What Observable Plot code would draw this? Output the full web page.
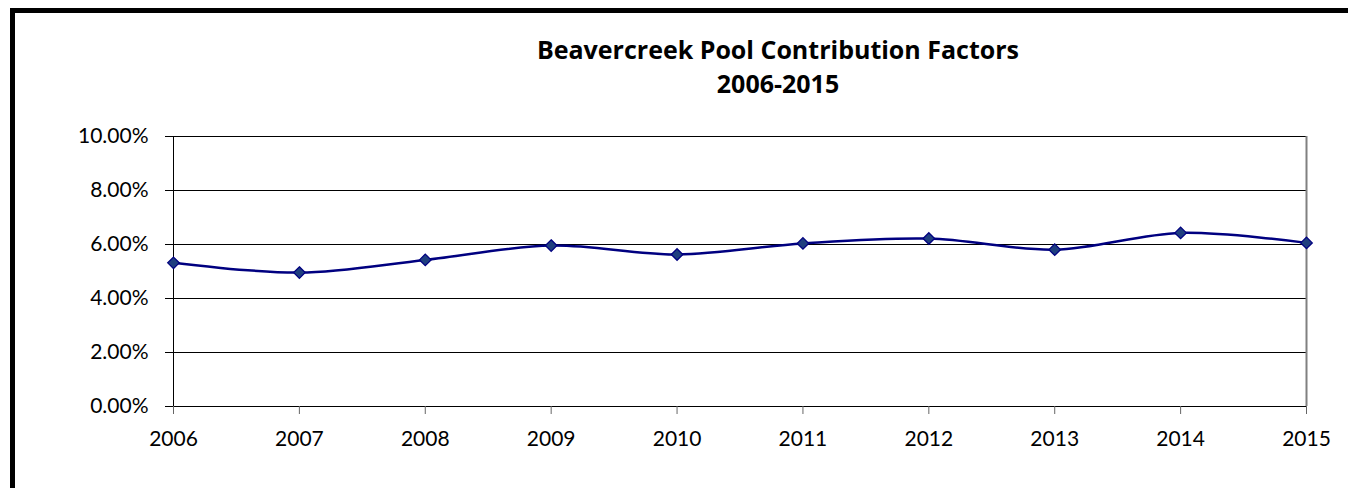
<!DOCTYPE html>
<html>
<head>
<meta charset="utf-8">
<script src="https://cdn.jsdelivr.net/npm/d3@7"></script>
<script src="https://cdn.jsdelivr.net/npm/@observablehq/plot@0.6"></script>
<style>
  html, body { margin: 0; padding: 0; background: #fff; overflow: hidden; width: 1348px; height: 488px; }
  #wrap { position: relative; width: 1348px; height: 488px; overflow: hidden; font-family: Lato, "Open Sans", sans-serif; background: #fff; }
  #barTop { position: absolute; left: 10px; top: 8px; width: 1338px; height: 5px; background: #000; }
  #barLeft { position: absolute; left: 10px; top: 8px; width: 5px; height: 480px; background: #000; }
  #title { position: absolute; left: 0; width: 1556px; top: 32px; text-align: center; font-family: "Open Sans", Lato, sans-serif; font-weight: bold; font-size: 25px; line-height: 34px; color: #000; white-space: nowrap; }
  #chart { position: absolute; left: 0; top: 0; width: 1348px; height: 488px; overflow: hidden; }
  #chart svg { display: block; }
  #mask { position: absolute; left: 1337px; top: 14px; width: 11px; height: 474px; background: #fff; z-index: 5; }
</style>
</head>
<body>
<div id="wrap">
  <div id="barTop"></div>
  <div id="barLeft"></div>
  <div id="chart"></div>
  <div id="title">Beavercreek Pool Contribution Factors<br>2006-2015</div>
  <div id="mask"></div>
</div>
<script>
const years = [2006, 2007, 2008, 2009, 2010, 2011, 2012, 2013, 2014, 2015];
const factors = [0.0532, 0.0496, 0.0543, 0.0596, 0.0563, 0.0604, 0.0622, 0.0581, 0.0643, 0.0606];
const yTicks = [0, 0.02, 0.04, 0.06, 0.08, 0.10];

const data = years.map((y, i) => ({year: y, value: factors[i]}));
const pct = d => (d * 100).toFixed(2) + "%";

const chart = Plot.plot({
  width: 1348,
  height: 488,
  marginLeft: 173,
  marginRight: 42,
  marginTop: 136,
  marginBottom: 82,
  style: {fontFamily: "Lato, 'Open Sans', sans-serif", fontSize: "21px", color: "#000", background: "transparent"},
  x: {domain: [2006, 2015], label: null},
  y: {domain: [0, 0.10], label: null},
  marks: [
    Plot.ruleY(yTicks, {stroke: "#000", strokeWidth: 1}),
    Plot.ruleX([2006], {y1: 0, y2: 0.10, stroke: "#000", strokeWidth: 1}),
    Plot.ruleX([2015], {y1: 0, y2: 0.10, stroke: "#808080", strokeWidth: 2}),
    Plot.axisY({ticks: yTicks, tickFormat: pct, tickSize: 8, tickPadding: 17, stroke: "#000", strokeOpacity: 1, fontSize: 21}),
    Plot.axisX({ticks: years, tickFormat: d => String(d), tickSize: 8, tickPadding: 17, stroke: "#666", strokeOpacity: 1, fontSize: 21}),
    Plot.line(data, {x: "year", y: "value", curve: "catmull-rom", stroke: "#000080", strokeWidth: 2.5}),
    Plot.dot(data, {x: "year", y: "value", symbol: "diamond2", r: 5.2, fill: "#1F3F7F", stroke: "#000080", strokeWidth: 1.3})
  ]
});
document.getElementById("chart").appendChild(chart);
</script>
</body>
</html>
